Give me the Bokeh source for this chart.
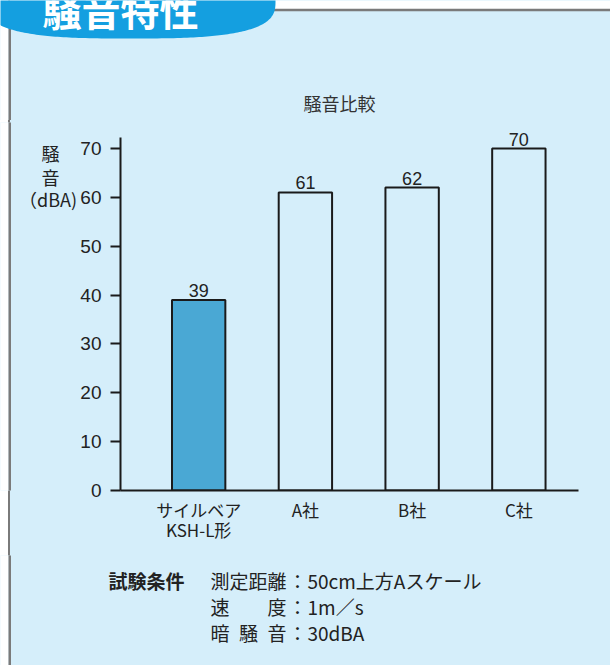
import numpy as np
from bokeh.plotting import figure
from bokeh.layouts import column, row
from bokeh.models import Range1d, FixedTicker
from bokeh.embed import file_html
from bokeh.resources import INLINE
from bokeh.core.properties import value

# ---- data ----
categories = ["サイルベア\nKSH-L形", "A社", "B社", "C社"]
noise_dba = [39, 61, 62, 70]
y_ticks = [0, 10, 20, 30, 40, 50, 60, 70]
chart_title = "騒音比較"
header_text = "騒音特性"
y_label_lines = ["騒", "音", "（dBA)"]
cond_head = "試験条件"
cond_names = ["測定距離", "速\u3000\u3000度", "暗\u2002騒\u2002音"]
cond_values = ["50cm上方Aスケール", "1m／s", "30dBA"]

# ---- styling ----
BG = "#d5eefa"
BAR_BLUE = "#4aa8d4"
HEAD_BLUE = "#149fe0"
EDGE = "#7a7a7a"
INK = "#222222"
JP = "Noto Sans CJK JP"
NUM = "Liberation Sans"

# page layout in pixels (page has no margin)
X1 = 610
Y_TOP_END = 120      # top strip: 0..120
Y_MID_END = 555      # chart strip: 120..555
Y_END = 665          # bottom strip: 555..665
LEFT_W_END = 77      # y-label strip: 0..77
FL_R, FR_R, FT_R, FB_R = 118, 578, 122, 490
PX_PER_UNIT = (490 - 148) / 70.0
EDGE_X = 9.25
PAGE_BG = ("linear-gradient(to right, #ffffff 0px, #ffffff 8px, "
           f"{EDGE} 8px, {EDGE} 10.5px, {BG} 10.5px)")


def decorate(f, x0, y0, y1):
    f.quad(left=[x0 - 2], right=[8], bottom=[y1 + 2], top=[y0 - 2],
           fill_color="white", line_color=None)
    f.line(x=[EDGE_X, EDGE_X], y=[max(y0, 20) - 1, y1 + 1], line_color=EDGE, line_width=2.5)


def deco_fig(x0, x1, y0, y1, top_pad=0, bottom_pad=0):
    f = figure(width=x1 - x0, height=y1 - y0 + top_pad + bottom_pad, output_backend="svg",
               toolbar_location=None, x_axis_location=None, y_axis_location=None,
               x_range=Range1d(x0, x1), y_range=Range1d(y1, y0),
               min_border=0, min_border_top=top_pad, min_border_bottom=bottom_pad)
    f.title.visible = False
    f.background_fill_color = BG
    f.border_fill_color = BG
    f.border_fill_alpha = 0
    f.outline_line_color = None
    f.grid.visible = False
    decorate(f, x0, y0, y1)
    return f


def txt(f, x, y, s, size, font=JP, align="left", bold=False, color=INK):
    f.text(x=[x], y=[y], text=[s], text_font=value(font), text_font_size=size,
           text_align=align, text_baseline="middle", text_color=color,
           text_font_style="bold" if bold else "normal")


# ---------- top strip ----------
top = deco_fig(0, X1, 0, Y_TOP_END)
top.quad(left=[-2], right=[X1 + 2], bottom=[9.5], top=[-2], fill_color="white", line_color=None)
top.line(x=[240, X1 + 2], y=[9.5, 9.5], line_color=EDGE, line_width=2.5)
t = np.linspace(0, 2 * np.pi, 300)
n = 3.0
cx, cy, a, b = 130, 0, 145, 38
ex = cx + a * np.sign(np.cos(t)) * np.abs(np.cos(t)) ** (2 / n)
ey = cy + b * np.sign(np.sin(t)) * np.abs(np.sin(t)) ** (2 / n)
top.patch(x=list(ex), y=list(ey), fill_color=HEAD_BLUE, line_color=None)
txt(top, 120, 8, header_text, "39px", align="center", bold=True, color="white")
txt(top, 339, 102, chart_title, "18px", align="center", color="#333333")

# ---------- y-label strip (frame aligned with the chart frame) ----------
left = deco_fig(0, LEFT_W_END, FT_R, FB_R,
                top_pad=FT_R - Y_TOP_END, bottom_pad=Y_MID_END - FB_R)
txt(left, 50, 152, y_label_lines[0], "18px", align="center")
txt(left, 50, 176, y_label_lines[1], "18px", align="center")
txt(left, 76.5, 198, y_label_lines[2], "18px", align="right")

# ---------- chart ----------
idx = list(range(len(categories)))
x0_px = 196.5
step_px = 107.2
p = figure(width=X1 - LEFT_W_END, height=Y_MID_END - Y_TOP_END,
           output_backend="svg", toolbar_location=None,
           x_range=Range1d(-(x0_px - FL_R) / step_px, (FR_R - x0_px) / step_px),
           y_range=Range1d(0, (FB_R - FT_R) / PX_PER_UNIT),
           min_border_left=FL_R - LEFT_W_END, min_border_right=X1 - FR_R,
           min_border_top=FT_R - Y_TOP_END, min_border_bottom=Y_MID_END - FB_R)
p.title.visible = False
p.background_fill_color = BG
p.border_fill_color = BG
p.outline_line_color = None
p.grid.visible = False

ya = p.yaxis[0]
ya.ticker = FixedTicker(ticks=y_ticks)
ya.bounds = (0, (FB_R - 137) / PX_PER_UNIT)
ya.axis_line_width = 2
ya.axis_line_color = "#1a1a1a"
ya.major_tick_line_width = 2
ya.major_tick_line_color = "#1a1a1a"
ya.major_tick_in = 0
ya.major_tick_out = 10
ya.minor_tick_line_color = None
ya.major_label_text_font = NUM
ya.major_label_text_font_size = "19px"
ya.major_label_text_color = INK
ya.major_label_standoff = 9

xa = p.xaxis[0]
xa.ticker = FixedTicker(ticks=idx)
xa.major_label_overrides = {i: c for i, c in zip(idx, categories)}
xa.axis_line_width = 2
xa.axis_line_color = "#1a1a1a"
xa.major_tick_line_color = None
xa.minor_tick_line_color = None
xa.major_label_text_font = JP
xa.major_label_text_font_size = "17px"
xa.major_label_text_line_height = 0.82
xa.major_label_text_color = INK
xa.major_label_standoff = 0

p.vbar(x=idx, top=noise_dba, width=0.5,
       fill_color=[BAR_BLUE] * len(idx),
       fill_alpha=[1.0] + [0.0] * (len(idx) - 1),
       line_color="#1a1a1a", line_width=2)
p.text(x=idx, y=noise_dba, text=[str(v) for v in noise_dba],
       y_offset=-3, text_align="center", text_baseline="bottom",
       text_font=value(NUM), text_font_size="18px", text_color=INK)

# ---------- bottom strip ----------
bot = deco_fig(0, X1, Y_MID_END, Y_END)
rows_y = [580, 606, 632]
txt(bot, 108, rows_y[0], cond_head, "19px", bold=True)
for yy, nm, vv in zip(rows_y, cond_names, cond_values):
    txt(bot, 210, yy, nm, "19px")
    txt(bot, 297, yy, "：", "19px", align="center")
    txt(bot, 307, yy, vv, "19px")

page = column(top, row(left, p, spacing=0, styles={"background": PAGE_BG}),
              bot, spacing=0, styles={"background": PAGE_BG})
open("out.html", "w").write(file_html(page, INLINE))
